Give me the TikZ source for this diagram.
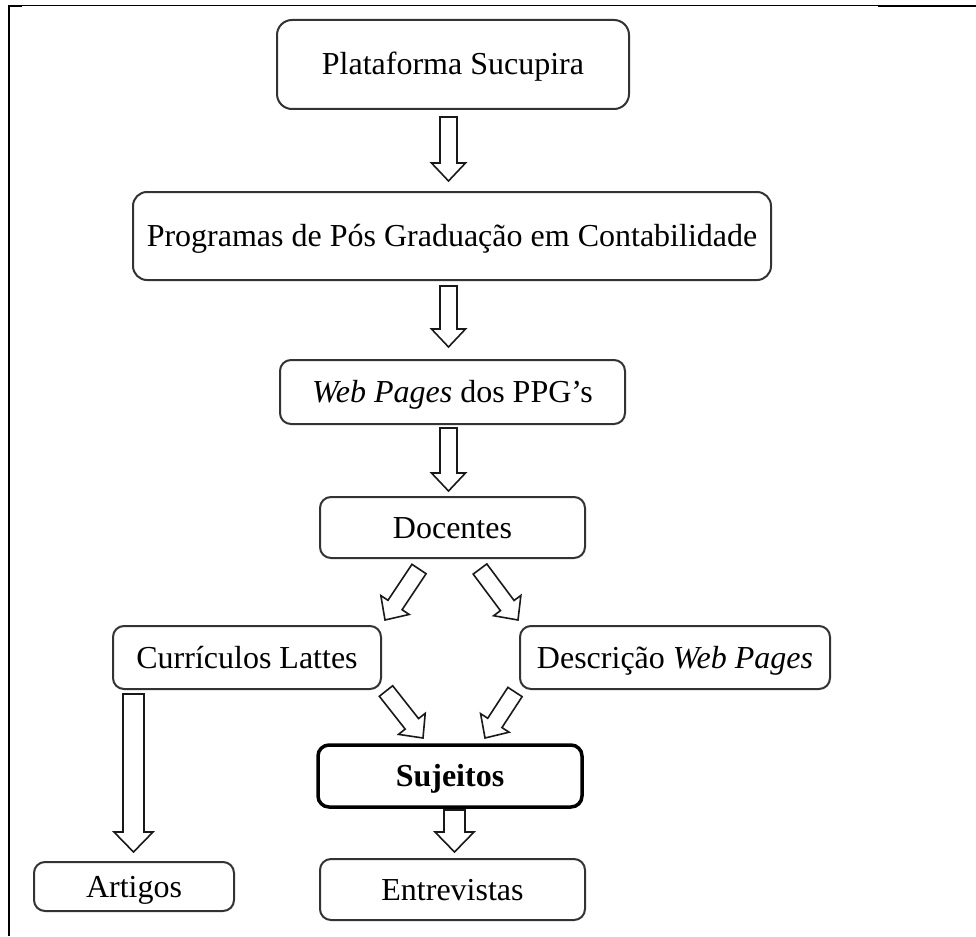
\documentclass[tikz,border=0pt]{standalone}
\usepackage{fontspec}
\setmainfont{Liberation Serif}
\usetikzlibrary{calc}

% hollow block arrow: tail, tip, shaft half width, head half width, head length
\newcommand{\blockarrow}[5]{%
  \coordinate (neck) at ($(#2)!#5!(#1)$);
  \draw[arrowline] ($(#1)!#3!90:(#2)$) -- ($(neck)!#3!-90:(#1)$)
    -- ($(neck)!#4!-90:(#1)$) -- (#2) -- ($(neck)!#4!90:(#1)$)
    -- ($(neck)!#3!90:(#1)$) -- ($(#1)!#3!-90:(#2)$) -- cycle;
}

\tikzset{
  box/.style={draw=black!80,line width=2pt,rounded corners=11pt,
    inner sep=0pt,text height=24pt,text depth=3pt,
    font=\fontsize{32}{38}\selectfont},
  keybox/.style={box,draw=black,line width=3.5pt},
  arrowline/.style={draw=black!90,line width=1.6pt,line join=miter,fill=white}
}

\begin{document}
\begin{tikzpicture}[x=1pt,y=-1pt]
  \useasboundingbox (0,0) rectangle (976,936);

  % ================= moldura =================
  \draw[line width=1pt] (9,6) -- (976,6);
  \draw[line width=2.2pt] (878,6) -- (976,6);
  \draw[line width=2.2pt] (8,6) -- (22,6);
  \draw[line width=2.2pt] (9,5) -- (9,936);

  % ================= caixas =================
  \node[box,minimum width=352pt,minimum height=89pt,rounded corners=15pt]
    (sucupira) at (453,64.5) {Plataforma Sucupira};
  \node[box,minimum width=638pt,minimum height=88pt,rounded corners=14pt]
    (programas) at (452,236) {Programas de Pós Graduação em Contabilidade};
  \node[box,minimum width=345pt,minimum height=64pt]
    (webpages) at (452.5,392) {\textit{Web Pages} dos PPG’s};
  \node[box,minimum width=265pt,minimum height=61pt]
    (docentes) at (452.5,527.5) {Docentes};
  \node[box,minimum width=268pt,minimum height=63pt]
    (curriculos) at (247,657.5) {Currículos Lattes};
  \node[box,minimum width=310pt,minimum height=63pt]
    (descricao) at (675,657.5) {Descrição \textit{Web Pages}};
  \node[keybox,minimum width=264pt,minimum height=62pt]
    (sujeitos) at (450,776) {\textbf{Sujeitos}};
  \node[box,minimum width=265pt,minimum height=61pt]
    (entrevistas) at (452.5,889.5) {Entrevistas};
  \node[box,minimum width=200pt,minimum height=49pt]
    (artigos) at (134,886.5) {Artigos};

  % ================= pontas das setas =================
  \coordinate (a1) at (448.5,117);  \coordinate (b1) at (448.5,181);
  \coordinate (a2) at (448.5,286);  \coordinate (b2) at (448.5,347);
  \coordinate (a3) at (448.5,428);  \coordinate (b3) at (448.5,491);
  \coordinate (l1) at (419,569);    \coordinate (m1) at (385,620);
  \coordinate (r1) at (480,569);    \coordinate (s1) at (518,620);
  \coordinate (l2) at (386,691);    \coordinate (m2) at (423,738);
  \coordinate (r2) at (515,692);    \coordinate (s2) at (485,738);
  \coordinate (c1) at (133.5,694);  \coordinate (d1) at (133.5,852);
  \coordinate (e1) at (454.5,810);  \coordinate (f1) at (454.5,852);

  % ================= setas =================
  \blockarrow{a1}{b1}{8.5pt}{17pt}{18pt}
  \blockarrow{a2}{b2}{8.5pt}{17pt}{18pt}
  \blockarrow{a3}{b3}{8.5pt}{17pt}{18pt}
  \blockarrow{l1}{m1}{8.5pt}{17pt}{18pt}
  \blockarrow{r1}{s1}{8.5pt}{17pt}{18pt}
  \blockarrow{l2}{m2}{8.5pt}{17pt}{18pt}
  \blockarrow{r2}{s2}{8.5pt}{17pt}{18pt}
  \blockarrow{c1}{d1}{10.5pt}{19.5pt}{20pt}
  \blockarrow{e1}{f1}{10.5pt}{19.5pt}{20pt}

\end{tikzpicture}
\end{document}
